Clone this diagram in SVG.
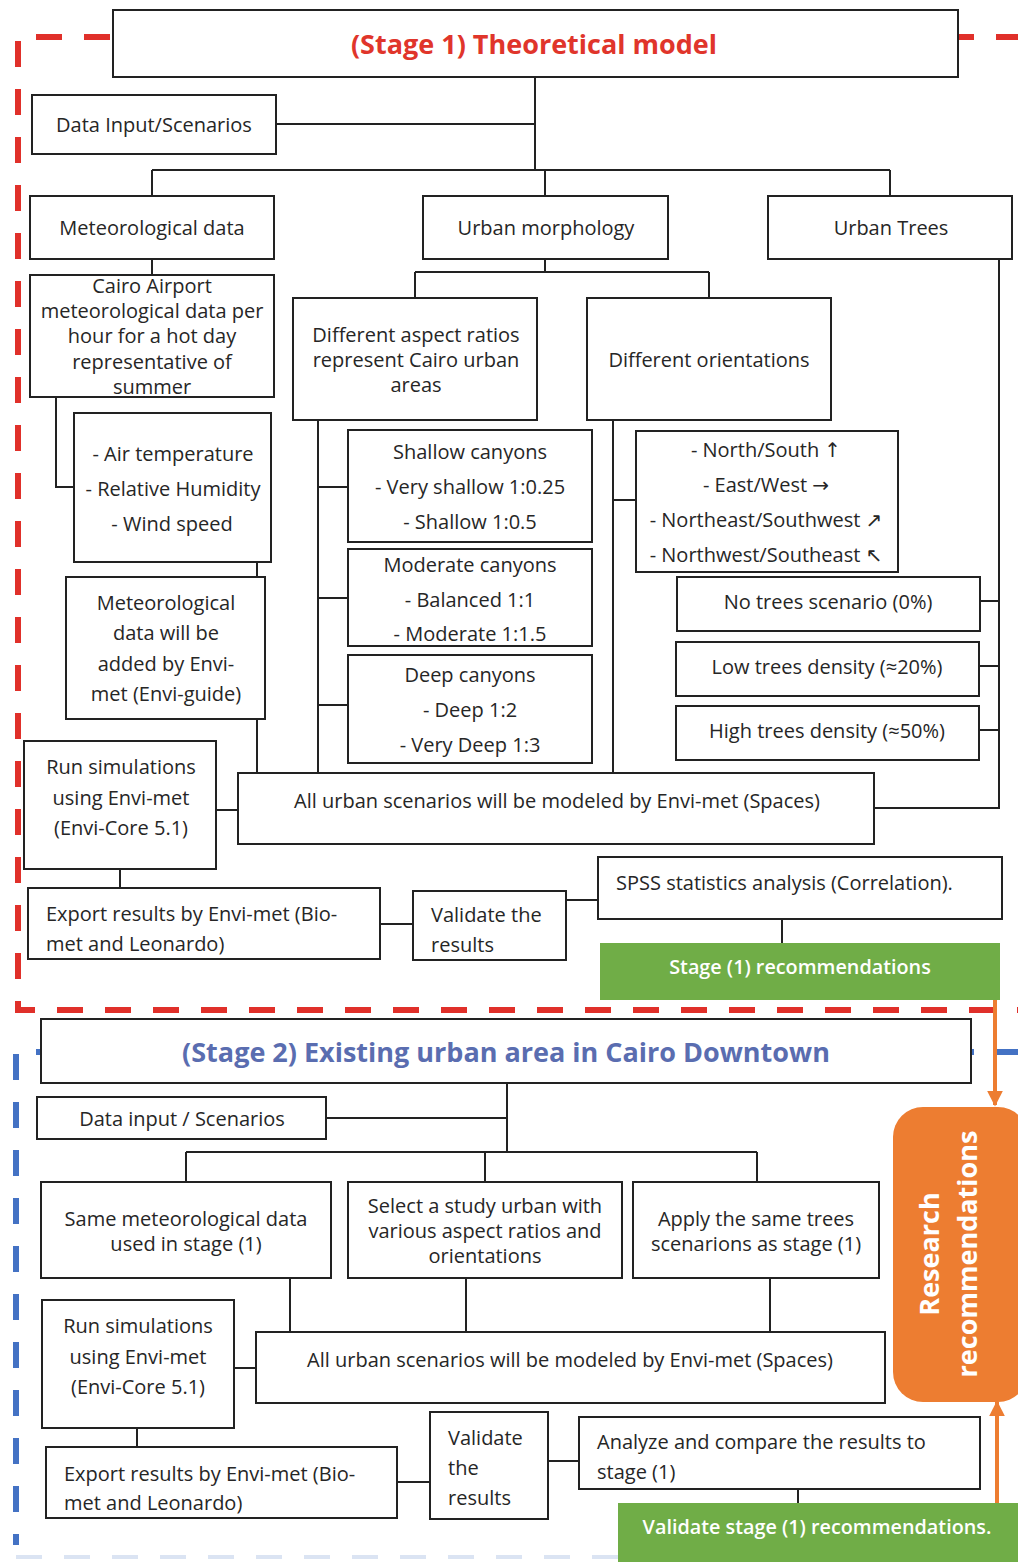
<svg xmlns="http://www.w3.org/2000/svg" width="1018" height="1562" viewBox="0 0 1018 1562">
<style>
rect.b{fill:#fff;stroke:#222;stroke-width:2}
text{font-family:"Open Sans","DejaVu Sans",sans-serif;font-size:20px;fill:#262626;dominant-baseline:central}
.c{text-anchor:middle}
.t1{font-size:27px;font-weight:bold;fill:#E0352B;text-anchor:middle}
.t2{font-size:27px;font-weight:bold;fill:#5A6DB0;text-anchor:middle}
.gw{font-size:19.8px;font-weight:600;fill:#fff;text-anchor:middle}
.ow{font-size:27px;font-weight:bold;fill:#fff;text-anchor:middle}
#connectors path{fill:none;stroke:#222;stroke-width:2}
</style>
<defs>
<marker id="ah" viewBox="0 0 10 10" refX="9" refY="5" markerWidth="4" markerHeight="4.5" orient="auto" markerUnits="strokeWidth">
<path d="M0 0L10 5L0 10z" fill="#ED7D31"/>
</marker>
</defs>
<rect width="1018" height="1562" fill="#fff"/>
<g id="frames">
<path d="M1022 37H18V1010H1022" fill="none" stroke="#E0302A" stroke-width="6" stroke-dasharray="26 22"/>
<path d="M1022 1052H16V1545" fill="none" stroke="#4472C4" stroke-width="6" stroke-dasharray="26 22"/>
<path d="M16 1557H1018" fill="none" stroke="#dbe4f3" stroke-width="4" stroke-dasharray="26 22"/>
</g>
<g id="connectors">
<path d="M535 77V170M276 124H535M152 170H890M152 170V196M545 170V196M890 170V196"/>
<path d="M152 259V275M56 397V487H74M257 562V577M257 719V773"/>
<path d="M545 259V272M415 272H709M415 272V298M709 272V298"/>
<path d="M318 420V773M318 487H348M318 598H348M318 705H348"/>
<path d="M613 420V773M613 500H636"/>
<path d="M999 259V808H874M980 601H999M979 666H999M979 730H999"/>
<path d="M216 810H238M120 869V888M380 924H413M566 900H598M782 919V943"/>
<path d="M507 1083V1152M326 1118H507M186 1152H757M186 1152V1182M485 1152V1182M757 1152V1182"/>
<path d="M290 1278V1332M466 1278V1332M770 1278V1332"/>
<path d="M234 1368H256M137 1428V1447M397 1482H430M548 1461H579M798 1489V1503"/>
<path d="M995 1000V1105" style="stroke:#ED7D31;stroke-width:4" marker-end="url(#ah)"/>
<path d="M997 1503V1402" style="stroke:#ED7D31;stroke-width:4" marker-end="url(#ah)"/>
</g>
<g id="stage1-title"><rect class="b" x="113" y="10" width="845" height="67"/><text class="t1" x="534" y="43">(Stage 1) Theoretical model</text></g>
<g id="s1-data-input"><rect class="b" x="32" y="95" width="244" height="59"/><text class="c" x="154" y="124">Data Input/Scenarios</text></g>
<g id="s1-met"><rect class="b" x="30" y="196" width="244" height="63"/><text class="c" x="152" y="227">Meteorological data</text></g>
<g id="s1-morph"><rect class="b" x="423" y="196" width="245" height="63"/><text class="c" x="546" y="227">Urban morphology</text></g>
<g id="s1-trees"><rect class="b" x="768" y="196" width="244" height="63"/><text class="c" x="891" y="227">Urban Trees</text></g>
<g id="s1-cairo"><rect class="b" x="30" y="275" width="244" height="122"/>
<text class="c" x="152" y="285">Cairo Airport</text><text class="c" x="152" y="310">meteorological data per</text><text class="c" x="152" y="335">hour for a hot day</text><text class="c" x="152" y="361">representative of</text><text class="c" x="152" y="386">summer</text></g>
<g id="s1-params"><rect class="b" x="74" y="413" width="197" height="149"/>
<text class="c" x="173" y="453">- Air temperature</text><text class="c" x="173" y="488">- Relative Humidity</text><text class="c" x="172" y="523">- Wind speed</text></g>
<g id="s1-envi-guide"><rect class="b" x="66" y="577" width="199" height="142"/>
<text class="c" x="166" y="602">Meteorological</text><text class="c" x="166" y="632">data will be</text><text class="c" x="166" y="663">added by Envi-</text><text class="c" x="166" y="693">met (Envi-guide)</text></g>
<g id="s1-aspect"><rect class="b" x="293" y="298" width="244" height="122"/>
<text class="c" x="416" y="334">Different aspect ratios</text><text class="c" x="416" y="359">represent Cairo urban</text><text class="c" x="416" y="384">areas</text></g>
<g id="s1-orient"><rect class="b" x="587" y="298" width="244" height="122"/><text class="c" x="709" y="359">Different orientations</text></g>
<g id="s1-shallow"><rect class="b" x="348" y="430" width="244" height="112"/>
<text class="c" x="470" y="451">Shallow canyons</text><text class="c" x="470" y="486">- Very shallow 1:0.25</text><text class="c" x="470" y="521">- Shallow 1:0.5</text></g>
<g id="s1-moderate"><rect class="b" x="348" y="549" width="244" height="97"/>
<text class="c" x="470" y="564">Moderate canyons</text><text class="c" x="470" y="599">- Balanced 1:1</text><text class="c" x="470" y="633">- Moderate 1:1.5</text></g>
<g id="s1-deep"><rect class="b" x="348" y="655" width="244" height="108"/>
<text class="c" x="470" y="674">Deep canyons</text><text class="c" x="470" y="709">- Deep 1:2</text><text class="c" x="470" y="744">- Very Deep 1:3</text></g>
<g id="s1-orient-list"><rect class="b" x="636" y="431" width="262" height="141"/>
<text class="c" x="766" y="449">- North/South ↑</text><text class="c" x="766" y="484">- East/West →</text><text class="c" x="766" y="519">- Northeast/Southwest ↗</text><text class="c" x="766" y="554">- Northwest/Southeast ↖</text></g>
<g id="s1-no-trees"><rect class="b" x="677" y="577" width="303" height="54"/><text class="c" x="828" y="601">No trees scenario (0%)</text></g>
<g id="s1-low-trees"><rect class="b" x="676" y="642" width="303" height="54"/><text class="c" x="827" y="666">Low trees density (≈20%)</text></g>
<g id="s1-high-trees"><rect class="b" x="676" y="706" width="303" height="54"/><text class="c" x="827" y="730">High trees density (≈50%)</text></g>
<g id="s1-run"><rect class="b" x="24" y="741" width="192" height="128"/>
<text class="c" x="121" y="766">Run simulations</text><text class="c" x="121" y="797">using Envi-met</text><text class="c" x="121" y="827">(Envi-Core 5.1)</text></g>
<g id="s1-all-urban"><rect class="b" x="238" y="773" width="636" height="71"/><text class="c" x="557" y="800">All urban scenarios will be modeled by Envi-met (Spaces)</text></g>
<g id="s1-export"><rect class="b" x="28" y="888" width="352" height="71"/>
<text x="46" y="913">Export results by Envi-met (Bio-</text><text x="46" y="943">met and Leonardo)</text></g>
<g id="s1-validate"><rect class="b" x="413" y="891" width="153" height="69"/>
<text x="431" y="914">Validate the</text><text x="431" y="944">results</text></g>
<g id="s1-spss"><rect class="b" x="598" y="857" width="404" height="62"/><text x="616" y="882">SPSS statistics analysis (Correlation).</text></g>
<g id="s1-reco"><rect x="600" y="943" width="400" height="57" fill="#70AD47"/><text class="gw" x="800" y="966">Stage (1) recommendations</text></g>
<g id="stage2-title"><rect class="b" x="41" y="1019" width="930" height="64"/><text class="t2" x="506" y="1051">(Stage 2) Existing urban area in Cairo Downtown</text></g>
<g id="s2-data-input"><rect class="b" x="37" y="1097" width="289" height="42"/><text class="c" x="182" y="1118">Data input / Scenarios</text></g>
<g id="s2-met"><rect class="b" x="41" y="1182" width="290" height="96"/>
<text class="c" x="186" y="1218">Same meteorological data</text><text class="c" x="186" y="1243">used in stage (1)</text></g>
<g id="s2-study"><rect class="b" x="348" y="1182" width="274" height="96"/>
<text class="c" x="485" y="1205">Select a study urban with</text><text class="c" x="485" y="1230">various aspect ratios and</text><text class="c" x="485" y="1255">orientations</text></g>
<g id="s2-trees"><rect class="b" x="633" y="1182" width="246" height="96"/>
<text class="c" x="756" y="1218">Apply the same trees</text><text class="c" x="756" y="1243">scenarions as stage (1)</text></g>
<g id="s2-run"><rect class="b" x="42" y="1300" width="192" height="128"/>
<text class="c" x="138" y="1325">Run simulations</text><text class="c" x="138" y="1356">using Envi-met</text><text class="c" x="138" y="1386">(Envi-Core 5.1)</text></g>
<g id="s2-all-urban"><rect class="b" x="256" y="1332" width="629" height="71"/><text class="c" x="570" y="1359">All urban scenarios will be modeled by Envi-met (Spaces)</text></g>
<g id="s2-export"><rect class="b" x="46" y="1447" width="351" height="71"/>
<text x="64" y="1473">Export results by Envi-met (Bio-</text><text x="64" y="1502">met and Leonardo)</text></g>
<g id="s2-validate"><rect class="b" x="430" y="1412" width="118" height="107"/>
<text x="448" y="1437">Validate</text><text x="448" y="1467">the</text><text x="448" y="1497">results</text></g>
<g id="s2-analyze"><rect class="b" x="579" y="1417" width="401" height="72"/>
<text x="597" y="1441">Analyze and compare the results to</text><text x="597" y="1471">stage (1)</text></g>
<g id="s2-reco"><rect x="618" y="1503" width="400" height="59" fill="#70AD47"/><text class="gw" x="817" y="1526">Validate stage (1) recommendations.</text></g>
<g id="research-reco"><rect x="893" y="1107" width="135" height="295" rx="30" fill="#ED7D31"/>
<text class="ow" transform="translate(928 1254) rotate(-90)">Research</text>
<text class="ow" transform="translate(966 1254) rotate(-90)">recommendations</text></g>
</svg>
